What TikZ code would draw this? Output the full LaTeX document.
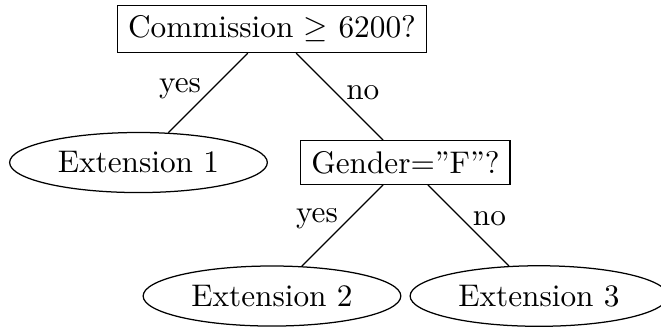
\documentclass[tikz,border=0pt]{standalone}
\usetikzlibrary{shapes.geometric}

\begin{document}
\begin{tikzpicture}[
	test/.style = {rectangle,draw}, % question box
	leaf/.style = {ellipse,draw}, % outcome
	semithin/.style = {line width=0.4pt}
	]
	\useasboundingbox (-3.056,0.326) rectangle (4.371,-3.348);
	
	\node[test] (q1) at (0,0) {Commission $\geq$ 6200?};
	\node[leaf] (e1) at (-1.5,-1.5) {Extension 1};
	\node[test] (q2) at (1.5,-1.5) {Gender=''F''?};
	\node[leaf] (e2) at (0,-3) {Extension 2};
	\node[leaf] (e3) at (3,-3) {Extension 3};
	
	\path[semithin]
	(q1) 	edge node[pos=0.45,left] {yes} (e1)
	edge node[pos=0.45,right] {no} (q2)
	(q2) 	edge node[pos=0.42,left] {yes} (e2)
	edge node[pos=0.42,right] {no} (e3);
	
\end{tikzpicture}
\end{document}
